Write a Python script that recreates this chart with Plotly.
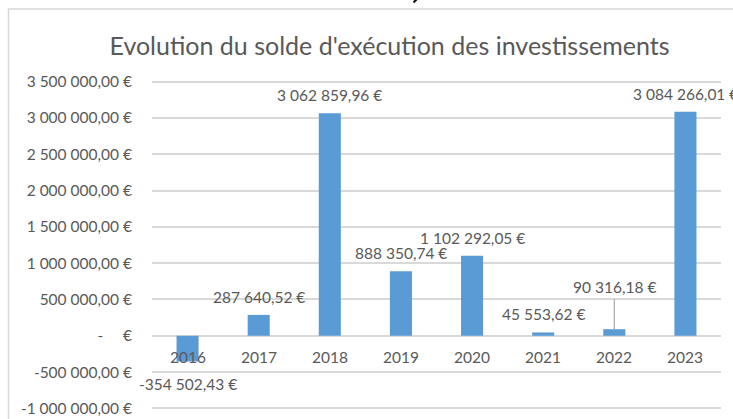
import plotly.graph_objects as go

# ---- data ----
years = ["2016", "2017", "2018", "2019", "2020", "2021", "2022", "2023"]
values = [-354502.43, 287640.52, 3062859.96, 888350.74, 1102292.05, 45553.62, 90316.18, 3084266.01]
tick_vals = [3500000, 3000000, 2500000, 2000000, 1500000, 1000000, 500000, 0, -500000, -1000000]
title_text = "Evolution du solde d'exécution des investissements"

W, H = 733, 419
Y_LO, Y_HI = -1050000, 3550000
PX_PER_UNIT = 326 / 4500000          # pixels per euro in the reference
MT = 82 - (Y_HI - 3500000) * PX_PER_UNIT
MB = 11 - (-1000000 - Y_LO) * PX_PER_UNIT
ML, MR = 152, 12
TXT = "#595959"
GRID = "#d9d9d9"
BAR = "#5b9bd5"
FONT = "Lato"
FS = 15.5


def fr(v):
    s = f"{abs(v):,.2f}".replace(",", " ").replace(".", ",")
    return ("-" if v < 0 else "") + s + " €"


def tick_label(v):
    if v == 0:
        return "-\u00a0\u00a0\u00a0\u00a0\u00a0€"
    return fr(v)


fig = go.Figure()
fig.add_trace(go.Bar(x=years, y=values, marker=dict(color=BAR, line=dict(width=0)),
                     hoverinfo="skip"))

annotations = []
# category labels next to the zero line (category index positions)
for i, y in enumerate(years):
    annotations.append(dict(x=i, y=0, xref="x", yref="y", text=y, showarrow=False,
                            yanchor="middle", yshift=-21,
                            font=dict(family=FONT, size=FS, color=TXT)))
# data labels
for i, (y, v) in enumerate(zip(years, values)):
    if y == "2022":
        shift = 42
    elif v < 0:
        shift = -22
    else:
        shift = 18
    annotations.append(dict(x=i, y=v, xref="x", yref="y", text=fr(v), showarrow=False,
                            yanchor="middle", yshift=shift,
                            font=dict(family=FONT, size=FS, color=TXT)))

PW = W - ML - MR
PH = H - MT - MB
i22 = years.index("2022")
shapes = [
    # chart frame
    dict(type="rect", xref="paper", yref="paper",
         x0=(8.5 - ML) / PW, x1=1.2,
         y0=-0.2, y1=(H - MB - 9.5) / PH,
         line=dict(color=GRID, width=1.5), fillcolor="rgba(0,0,0,0)", layer="below"),
    # leader line for 2022 label
    dict(type="line", xref="x", yref="y", ysizemode="pixel",
         x0=i22, x1=i22, yanchor=values[i22], y0=0, y1=30,
         line=dict(color="#a6a6a6", width=1.2)),
    # fragment of text above the chart frame
    dict(type="line", xref="paper", yref="paper",
         x0=(413.5 - ML) / PW, x1=(416.5 - ML) / PW,
         y0=(H - MB - 3) / PH, y1=(H - MB - 0) / PH,
         line=dict(color="#000000", width=2)),
]

fig.update_layout(
    width=W, height=H,
    margin=dict(l=ML, r=MR, t=MT, b=MB, pad=0, autoexpand=False),
    paper_bgcolor="white", plot_bgcolor="white",
    showlegend=False,
    bargap=0.69,
    font=dict(family=FONT, size=FS, color=TXT),
    title=dict(text=title_text, x=389.5 / W, xanchor="center", xref="container",
               y=1 - 46 / H, yanchor="middle",
               font=dict(family=FONT, size=25, color=TXT)),
    xaxis=dict(type="category", range=[-0.5, len(years) - 0.5], showticklabels=False,
               showgrid=False, zeroline=False,
               showline=False, ticks="", fixedrange=True, automargin=False),
    yaxis=dict(range=[Y_LO, Y_HI], tickvals=tick_vals,
               ticktext=[tick_label(v) for v in tick_vals],
               showgrid=True, gridcolor=GRID, gridwidth=1.5,
               zeroline=True, zerolinecolor=GRID, zerolinewidth=1.5,
               showline=False, ticks="", ticklabelstandoff=19, automargin=False,
               tickfont=dict(family=FONT, size=FS, color=TXT), fixedrange=True),
    annotations=annotations,
    shapes=shapes,
)

fig.write_html("out.html", config={"displayModeBar": False},
               post_script="document.body.style.margin='0';")
